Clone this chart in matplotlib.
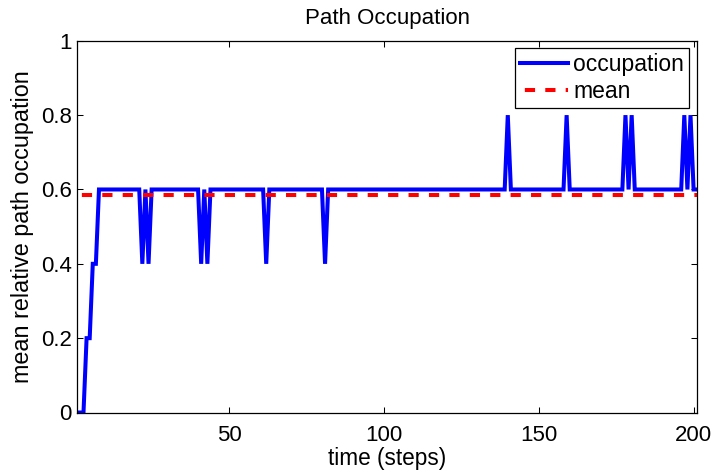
import numpy as np
import matplotlib
matplotlib.use("Agg")
import matplotlib.pyplot as plt

plt.rcParams['font.family'] = ['Liberation Sans', 'DejaVu Sans']
plt.rcParams['lines.scale_dashes'] = False

# mean relative path occupation per time step (steps 1..201)
steps = np.arange(1, 202)
occupation = np.full(201, 0.6)
occupation[0:3] = 0.0            # steps 1-3
occupation[3:5] = 0.2            # steps 4-5
occupation[5:7] = 0.4            # steps 6-7
dip_steps = [22, 24, 41, 43, 62, 81]
peak_steps = [140, 159, 178, 180, 197, 199]
occupation[np.array(dip_steps) - 1] = 0.4
occupation[np.array(peak_steps) - 1] = 0.8

mean_occupation = occupation.mean()

xticks = [50, 100, 150, 200]
yticks = [0, 0.2, 0.4, 0.6, 0.8, 1]
ytick_labels = ["0", "0.2", "0.4", "0.6", "0.8", "1"]

FS = 16
W, H = 713, 471
fig = plt.figure(figsize=(W / 100, H / 100), dpi=100)
ax = fig.add_axes([77.3 / W, 1 - 412.5 / H, (696.7 - 77.3) / W, (412.5 - 40.8) / H])

ax.plot(steps, occupation, color=(0, 0, 1), lw=2.9, label="occupation",
        solid_joinstyle="miter")
ax.plot([steps[0], steps[-1]], [mean_occupation, mean_occupation],
        color=(1, 0, 0), lw=2.9, linestyle=(11.2, (7.35, 7.35)),
        dash_capstyle="butt", label="mean")

ax.set_xlim(1, 201)
ax.set_ylim(0, 1)
ax.set_xticks(xticks)
ax.set_yticks(yticks)
ax.set_yticklabels(ytick_labels)
ax.tick_params(direction="in", length=4, width=0.75, labelsize=FS,
               top=True, right=True, colors="black")
ax.tick_params(axis="x", pad=9)
ax.tick_params(axis="y", pad=4)
for s in ax.spines.values():
    s.set_linewidth(0.9)

ax.set_title("Path Occupation", fontsize=FS, pad=12)
ax.set_xlabel("time (steps)", fontsize=FS + 0.3, labelpad=0.5)
ax.set_ylabel("mean relative path occupation", fontsize=FS + 0.8, labelpad=5)

leg = ax.legend(loc="upper right", bbox_to_anchor=(689 / W, 1 - 48.3 / H),
                bbox_transform=fig.transFigure, borderaxespad=0,
                fontsize=FS + 0.5, fancybox=False, framealpha=1,
                edgecolor="black", handlelength=2.1, handletextpad=0.22,
                labelspacing=0.17, borderpad=0.22)
leg.get_frame().set_linewidth(0.9)

fig.savefig("out.png", dpi=100)
